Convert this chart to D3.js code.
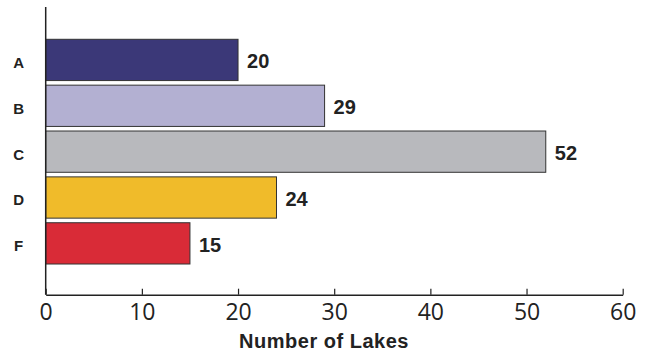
<!DOCTYPE html>
<html>
<head>
<meta charset="utf-8">
<script src="https://cdn.jsdelivr.net/npm/d3@7"></script>
<style>
  body { margin: 0; background: #fff; }
  svg { display: block; }
</style>
</head>
<body>
<div class="chart"></div>
<script>
// lakes per category
const categories = ["A", "B", "C", "D", "F"];
const lakeCounts = [20, 29, 52, 24, 15];
const barColors = ["#3b3878", "#b3b0d2", "#b8b9bd", "#f0bb2a", "#d92b37"];
const xTicks = [0, 10, 20, 30, 40, 50, 60];
const xTitle = "Number of Lakes";

const width = 652;
const height = 354;

const svg = d3.select(".chart")
  .append("svg")
  .attr("width", width)
  .attr("height", height);

const x = d3.scaleLinear()
  .domain([0, 60])
  .range([45.7, 622.7]);

const y = d3.scaleBand()
  .domain(categories)
  .range([37, 266.3])
  .paddingInner(0.1)
  .paddingOuter(0.05);

const axisY = 294.7;

svg.append("g")
  .selectAll("rect")
  .data(categories)
  .join("rect")
  .attr("x", x(0))
  .attr("y", d => y(d))
  .attr("width", (d, i) => x(lakeCounts[i]) - x(0))
  .attr("height", y.bandwidth())
  .attr("fill", (d, i) => barColors[i])
  .attr("stroke", "#333")
  .attr("stroke-width", 1);

// value labels
svg.append("g")
  .selectAll("text")
  .data(categories)
  .join("text")
  .attr("x", (d, i) => x(lakeCounts[i]) + 9)
  .attr("y", d => y(d) + y.bandwidth() / 2 + 1)
  .attr("dy", "0.36em")
  .attr("font-family", "Liberation Sans, Arial, sans-serif")
  .attr("font-weight", "bold")
  .attr("font-size", 20)
  .attr("fill", "#222")
  .text((d, i) => lakeCounts[i]);

// category labels
svg.append("g")
  .selectAll("text")
  .data(categories)
  .join("text")
  .attr("x", 18.7)
  .attr("y", d => y(d) + y.bandwidth() / 2 + 2.5)
  .attr("dy", "0.36em")
  .attr("text-anchor", "middle")
  .attr("font-family", "Liberation Sans, Arial, sans-serif")
  .attr("font-weight", "bold")
  .attr("font-size", 15)
  .attr("fill", "#222")
  .text(d => d);

// x axis
const xAxis = d3.axisBottom(x)
  .tickValues(xTicks)
  .tickSize(-6)
  .tickPadding(9)
  .tickSizeOuter(0);

const gx = svg.append("g")
  .attr("transform", `translate(0,${axisY})`)
  .call(xAxis);

gx.select(".domain")
  .attr("stroke", "#222")
  .attr("stroke-width", 1.5);
gx.selectAll(".tick line")
  .attr("stroke", "#222")
  .attr("stroke-width", 1.2);
gx.selectAll(".tick text")
  .attr("font-family", "Open Sans, sans-serif")
  .attr("font-size", 23)
  .attr("fill", "#222");

// y axis line
svg.append("line")
  .attr("x1", x(0))
  .attr("x2", x(0))
  .attr("y1", 7)
  .attr("y2", axisY)
  .attr("stroke", "#222")
  .attr("stroke-width", 1.5);

svg.append("text")
  .attr("x", 324)
  .attr("y", 348)
  .attr("text-anchor", "middle")
  .attr("font-family", "Liberation Sans, Arial, sans-serif")
  .attr("font-weight", "bold")
  .attr("font-size", 20)
  .attr("letter-spacing", 0.5)
  .attr("fill", "#222")
  .text(xTitle);
</script>
</body>
</html>
